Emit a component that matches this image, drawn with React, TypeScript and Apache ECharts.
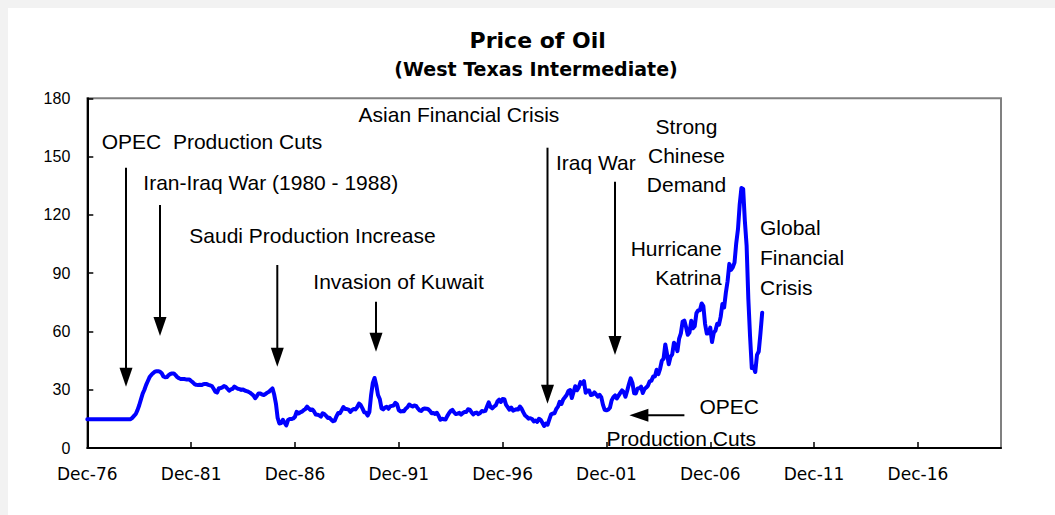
import React, { useEffect, useRef } from "react";
import * as echarts from "echarts";

// ---------- data ----------
// Monthly WTI price (US$/bbl), first value = Dec-76
const P_1976_1978 = [14.85,
  14.85, 14.85, 14.85, 14.85, 14.85, 14.85, 14.85, 14.85, 14.85, 14.85, 14.85, 14.85,
  14.85, 14.85, 14.85, 14.85, 14.85, 14.85, 14.85, 14.85, 14.85, 14.85, 14.85, 14.85];
const P_1979_1981 = [
  14.85, 15.5, 16.5, 17.5, 19.5, 22.0, 25.0, 28.0, 30.0, 32.5, 34.5, 36.5,
  37.6, 38.5, 39.3, 39.5, 39.5, 39.3, 38.5, 36.8, 36.4, 36.5, 37.5, 38.1,
  38.4, 38.4, 37.5, 36.5, 35.9, 35.5, 35.5, 35.5, 35.3, 35.3, 35.3, 34.5];
const P_1982_1985 = [
  33.8, 32.9, 32.5, 32.4, 32.5, 32.4, 32.8, 33.0, 32.9, 32.5, 32.2, 31.9,
  30.5, 29.0, 28.5, 30.7, 30.8, 31.2, 31.9, 31.5, 30.5, 29.5, 30.2, 30.5,
  31.6, 31.0, 30.5, 30.3, 29.9, 30.1, 29.6, 29.3, 29.0, 28.5, 27.8, 27.0,
  25.6, 26.8, 28.1, 28.0, 27.5, 27.3, 27.8, 28.5, 29.0, 29.8, 30.7, 27.5];
const P_1986_1990 = [
  22.9, 15.5, 12.6, 12.8, 14.5, 13.0, 11.6, 14.4, 14.9, 14.9, 15.2, 16.1,
  18.65, 17.75, 18.3, 18.68, 19.44, 20.07, 21.34, 20.31, 19.53, 19.86, 18.85, 17.28,
  17.13, 16.8, 16.2, 17.86, 17.42, 16.53, 15.5, 15.52, 14.54, 13.77, 14.14, 16.38,
  18.02, 17.94, 19.48, 21.07, 20.12, 20.05, 19.78, 18.58, 19.59, 20.1, 19.86, 21.1,
  22.86, 22.11, 20.39, 18.43, 18.2, 16.7, 18.45, 27.31, 33.51, 36.04, 32.33, 27.28];
const P_1991_1995 = [
  25.23, 20.48, 19.9, 20.83, 21.23, 20.19, 21.4, 21.69, 21.89, 23.23, 22.46, 19.5,
  18.79, 19.01, 18.92, 20.23, 20.98, 22.39, 21.78, 21.34, 21.88, 21.69, 20.34, 19.41,
  19.03, 20.09, 20.32, 20.25, 19.95, 19.09, 17.89, 18.01, 17.5, 18.15, 16.61, 14.52,
  15.03, 14.78, 14.68, 16.42, 17.89, 19.06, 19.65, 18.38, 17.45, 17.72, 18.07, 17.16,
  18.04, 18.57, 18.54, 19.9, 19.74, 18.45, 17.33, 18.02, 18.23, 17.43, 17.99, 19.03];
const P_1996_2000 = [
  18.85, 19.09, 21.33, 23.5, 21.17, 20.42, 21.3, 21.9, 23.97, 24.88, 23.71, 25.23,
  25.13, 22.18, 20.97, 19.7, 20.82, 19.26, 19.66, 19.95, 19.8, 21.33, 20.19, 18.33,
  16.72, 16.06, 15.12, 15.35, 14.91, 13.72, 14.17, 13.47, 15.03, 14.46, 13.0, 11.35,
  12.52, 12.01, 14.68, 17.31, 17.72, 17.92, 20.1, 21.28, 23.8, 22.69, 25.0, 26.1,
  27.26, 29.37, 29.84, 25.72, 28.79, 31.82, 29.7, 31.26, 33.88, 33.11, 34.42, 28.44];
const P_2001_2005 = [
  29.59, 29.61, 27.24, 27.49, 28.63, 27.6, 26.43, 27.37, 26.2, 22.17, 19.64, 19.39,
  19.72, 20.72, 24.53, 26.18, 27.04, 25.52, 26.97, 28.39, 29.66, 28.84, 26.35, 29.46,
  32.95, 35.83, 33.51, 28.17, 28.11, 30.66, 30.76, 31.57, 28.31, 30.34, 31.11, 32.13,
  34.31, 34.69, 36.74, 36.75, 40.28, 38.03, 40.78, 44.9, 45.94, 53.28, 48.47, 43.15,
  46.84, 48.15, 54.19, 52.98, 49.83, 56.35, 59.0, 64.99, 65.59, 62.26, 58.32, 59.41];
const P_2006_2009 = [
  65.49, 61.63, 62.69, 69.44, 70.84, 70.95, 74.41, 73.04, 63.8, 58.89, 59.08, 61.96,
  54.51, 59.28, 60.44, 63.98, 63.45, 67.49, 74.12, 72.36, 79.92, 85.8, 94.77, 91.69,
  92.97, 95.39, 105.45, 112.58, 125.4, 133.88, 133.37, 116.67, 104.11, 76.61, 57.31, 41.12,
  41.71, 39.09, 47.94, 49.65, 59.03, 69.64];

const PRICES = [
  ...P_1976_1978, ...P_1979_1981, ...P_1982_1985, ...P_1986_1990,
  ...P_1991_1995, ...P_1996_2000, ...P_2001_2005, ...P_2006_2009,
];

const MONTHS = ["Jan", "Feb", "Mar", "Apr", "May", "Jun", "Jul", "Aug", "Sep", "Oct", "Nov", "Dec"];
const FIRST_YEAR = 1976; // axis starts Dec-76
const LAST_YEAR = 2020;  // axis ends Dec-20
const TICK_LABELS = ["Dec-76", "Dec-81", "Dec-86", "Dec-91", "Dec-96", "Dec-01", "Dec-06", "Dec-11", "Dec-16"];
const Y_TICKS = [0, 30, 60, 90, 120, 150, 180];

const CATEGORIES: string[] = [];
for (let y = FIRST_YEAR; y <= LAST_YEAR; y++) {
  for (let m = 0; m < 12; m++) {
    if (y === FIRST_YEAR && m < 11) continue;
    CATEGORIES.push(`${MONTHS[m]}-${String(y % 100).padStart(2, "0")}`);
  }
}

const TITLE = "Price of Oil";
const SUBTITLE = "(West Texas Intermediate)";

// ---------- layout ----------
const OFF = 8; // chart div offset on page
const ARIAL = "'Liberation Sans', Arial, sans-serif";
const DEJAVU = "'DejaVu Sans', sans-serif";

type Txt = { t: string; x: number; b: number; a: "left" | "center" | "right" };
const NOTES: Txt[] = [
  { t: "OPEC  Production Cuts", x: 101.7, b: 148.3, a: "left" },
  { t: "Iran-Iraq War (1980 - 1988)", x: 143.3, b: 190, a: "left" },
  { t: "Saudi Production Increase", x: 189.3, b: 242.7, a: "left" },
  { t: "Invasion of Kuwait", x: 313.3, b: 288.3, a: "left" },
  { t: "Asian Financial Crisis", x: 559.3, b: 121.7, a: "right" },
  { t: "Iraq War", x: 556, b: 170, a: "left" },
  { t: "Strong", x: 686.5, b: 133.3, a: "center" },
  { t: "Chinese", x: 686.5, b: 162.3, a: "center" },
  { t: "Demand", x: 686.5, b: 191.7, a: "center" },
  { t: "Hurricane", x: 721.7, b: 256, a: "right" },
  { t: "Katrina", x: 721.7, b: 285, a: "right" },
  { t: "Global", x: 760, b: 235, a: "left" },
  { t: "Financial", x: 760, b: 265, a: "left" },
  { t: "Crisis", x: 760, b: 295, a: "left" },
  { t: "OPEC", x: 758.9, b: 413.8, a: "right" },
  { t: "Production Cuts", x: 756, b: 445.7, a: "right" },
];
// vertical arrows: x, top, tip (page px)
const V_ARROWS = [
  [126, 167.7, 386.7],
  [160, 205, 336],
  [277.3, 265, 366.7],
  [376, 301.7, 351.7],
  [547.5, 147.7, 403.8],
  [615, 181.7, 355],
];
// horizontal arrow: tail x, tip x, y
const H_ARROWS = [[684.4, 629.4, 415.2]];

function textEl(t: string, x: number, baseline: number, align: string, size: number, family: string, weight = "normal") {
  return {
    type: "text",
    x: x - OFF,
    y: baseline - 0.3465 * size - OFF,
    silent: true,
    style: {
      text: t,
      fill: "#000",
      fontSize: size,
      fontFamily: family,
      fontWeight: weight,
      align,
      textAlign: align,
      verticalAlign: "middle",
      textVerticalAlign: "middle",
    },
  };
}

function buildGraphics() {
  const els: any[] = [];
  const HEAD = 19;
  const HW = 6.5;
  els.push(textEl(TITLE, 537.7, 48.3, "center", 22, DEJAVU, "bold"));
  els.push(textEl(SUBTITLE, 536, 76, "center", 19, DEJAVU, "bold"));
  NOTES.forEach((n) => els.push(textEl(n.t, n.x, n.b, n.a, 21, ARIAL)));
  V_ARROWS.forEach(([x, top, tip]) => {
    els.push({
      type: "line", silent: true,
      shape: { x1: x - OFF, y1: top - OFF, x2: x - OFF, y2: tip - HEAD - OFF + 1 },
      style: { stroke: "#000", lineWidth: 2 },
    });
    els.push({
      type: "polygon", silent: true,
      shape: { points: [[x - HW - OFF, tip - HEAD - OFF], [x + HW - OFF, tip - HEAD - OFF], [x - OFF, tip - OFF]] },
      style: { fill: "#000" },
    });
  });
  H_ARROWS.forEach(([tail, tip, y]) => {
    els.push({
      type: "line", silent: true,
      shape: { x1: tail - OFF, y1: y - OFF, x2: tip + HEAD - OFF - 1, y2: y - OFF },
      style: { stroke: "#000", lineWidth: 2 },
    });
    els.push({
      type: "polygon", silent: true,
      shape: { points: [[tip + HEAD - OFF, y - HW - OFF], [tip + HEAD - OFF, y + HW - OFF], [tip - OFF, y - OFF]] },
      style: { fill: "#000" },
    });
  });
  return els;
}

export default function App() {
  const ref = useRef<HTMLDivElement>(null);
  useEffect(() => {
    if (!ref.current) return;
    const chart = echarts.init(ref.current, undefined, { renderer: "svg" });
    chart.setOption({
      animation: false,
      backgroundColor: "#ffffff",
      grid: {
        left: 87.3 - OFF,
        top: 98.3 - OFF,
        width: 1001 - 87.3,
        height: 448 - 98.3,
        show: true,
        borderColor: "#808080",
        borderWidth: 2,
        backgroundColor: "transparent",
        containLabel: false,
      },
      xAxis: {
        type: "category",
        data: CATEGORIES,
        boundaryGap: false,
        axisLine: { show: true, lineStyle: { color: "#000", width: 2 } },
        axisTick: { show: true, inside: true, length: 6, interval: 59, lineStyle: { color: "#000", width: 1.5 } },
        axisLabel: {
          interval: 59,
          color: "#000",
          fontSize: 17,
          fontFamily: DEJAVU,
          margin: 17,
          formatter: (v: string) => (TICK_LABELS.includes(v) ? v : ""),
        },
        splitLine: { show: false },
      },
      yAxis: {
        type: "value",
        min: Y_TICKS[0],
        max: Y_TICKS[Y_TICKS.length - 1],
        interval: Y_TICKS[1] - Y_TICKS[0],
        axisLine: { show: true, lineStyle: { color: "#000", width: 2 } },
        axisTick: { show: true, inside: true, length: 6, lineStyle: { color: "#000", width: 1.5 } },
        axisLabel: { color: "#000", fontSize: 16, fontFamily: ARIAL, margin: 17 },
        splitLine: { show: false },
      },
      series: [
        {
          type: "line",
          data: PRICES,
          showSymbol: false,
          symbol: "none",
          smooth: false,
          lineStyle: { color: "#0000ff", width: 4, join: "round", cap: "round" },
          z: 3,
        },
      ],
      graphic: buildGraphics(),
    });
    return () => chart.dispose();
  }, []);
  return (
    <div style={{ position: "fixed", left: 0, top: 0, width: 1055, height: 515, background: "#f2f2f2", overflow: "hidden" }}>
      <div ref={ref} style={{ position: "absolute", left: OFF, top: OFF, width: 1055 - OFF, height: 515 - OFF, background: "#fff" }} />
    </div>
  );
}
